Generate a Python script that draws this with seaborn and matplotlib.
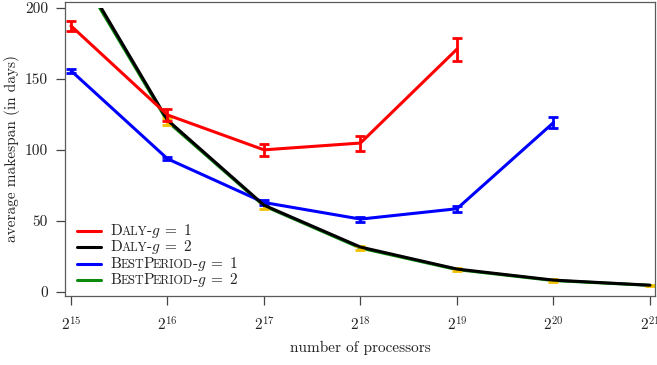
import matplotlib
matplotlib.use("Agg")
import matplotlib.pyplot as plt
import seaborn as sns
import pandas as pd
from matplotlib.transforms import Bbox, TransformedBbox
from matplotlib.lines import Line2D
from matplotlib.ticker import NullLocator
from matplotlib.offsetbox import (AnchoredOffsetbox, VPacker, HPacker,
                                  TextArea, DrawingArea)

# ---- data -------------------------------------------------------------
exponents = [15, 16, 17, 18, 19, 20, 21]
processors = [2 ** e for e in exponents]

daly_g1 = [187.4, 124.6, 100.0, 104.8, 171.0]
daly_g1_err = [3.7, 4.0, 4.2, 5.3, 8.1]

daly_g2 = [236.0, 121.0, 61.0, 31.5, 16.0, 8.2, 4.6]

best_g1 = [155.8, 93.7, 62.9, 51.2, 58.5, 119.2]
best_g1_err = [1.5, 1.0, 1.5, 1.7, 2.1, 3.9]

best_g2 = [234.0, 120.0, 60.5, 30.8, 15.6, 7.9, 4.5]
best_g2_err = [2.5, 2.5, 2.0, 1.5, 1.0, 0.8, 0.6]

yticks = [0, 50, 100, 150, 200]
y_cap = 200

# ---- style ------------------------------------------------------------
sns.set_style("ticks")
plt.rcParams["font.family"] = ["cmr10", "DejaVu Serif"]
plt.rcParams["mathtext.fontset"] = "cm"
plt.rcParams["axes.formatter.use_mathtext"] = True
FS = 11

RED, BLACK, BLUE, GREEN, GOLD = "#ff0000", "#000000", "#0000ff", "#0b8a0b", "#f2c200"
LW = 2.2

fig = plt.figure(figsize=(6.57, 3.65), dpi=100)
ax = fig.add_axes([65 / 657, 1 - 296 / 365, 590 / 657, 294 / 365])
ax.set_xscale("log", base=2)
ax.set_xlim(2 ** 14.938, 2 ** 21.052)
ax.set_ylim(-3.0, 204.2)

# clip the curves at the top of the value range
clip = TransformedBbox(Bbox.from_extents(2 ** 14.9, -10, 2 ** 21.1, y_cap), ax.transData)


def draw_line(values, color, z):
    df = pd.DataFrame({"p": processors[:len(values)], "v": values})
    sns.lineplot(data=df, x="p", y="v", color=color, linewidth=LW,
                 estimator=None, ax=ax, zorder=z)
    line = ax.lines[-1]
    line.set_clip_box(clip)
    line.set_solid_joinstyle("round")


def draw_err(values, errs, color, z):
    eb = ax.errorbar(processors[:len(values)], values, yerr=errs, fmt="none",
                     ecolor=color, elinewidth=2.0, capsize=3.6, capthick=2.0,
                     zorder=z)
    for art in eb.lines[1] + eb.lines[2]:
        art.set_clip_box(clip)


draw_line(best_g2, GREEN, 2)
draw_err(best_g2, best_g2_err, GOLD, 2.5)
draw_line(best_g1, BLUE, 3)
draw_err(best_g1, best_g1_err, BLUE, 3)
draw_line(daly_g2, BLACK, 4)
draw_line(daly_g1, RED, 5)
draw_err(daly_g1, daly_g1_err, RED, 5)

# ---- axes -------------------------------------------------------------
ax.set_xticks(processors)
ax.set_xticklabels([f"$2^{{{e}}}$" for e in exponents])
ax.xaxis.set_minor_locator(NullLocator())
ax.set_yticks(yticks)
ax.set_yticklabels([str(t) for t in yticks])

for s in ax.spines.values():
    s.set_color("#5a5a5a")
    s.set_linewidth(0.9)
ax.tick_params(axis="both", direction="out", length=6.2, width=0.9,
               color="#444444", labelsize=FS, labelcolor="#222222")
ax.tick_params(axis="x", pad=8.0)
ax.tick_params(axis="y", pad=6.0)

ax.set_xlabel("number of processors", fontsize=FS, color="#222222")
ax.set_ylabel("average makespan (in days)", fontsize=FS, color="#222222")
ax.xaxis.set_label_coords(0.5, -0.152)
ax.yaxis.set_label_coords(-0.076, 0.5)

# ---- legend with small-caps names ------------------------------------
SC = FS * 0.8
entries = [
    (RED, [("D", FS), ("ALY", SC), (r"-$g\;=\;1$", FS)]),
    (BLACK, [("D", FS), ("ALY", SC), (r"-$g\;=\;2$", FS)]),
    (BLUE, [("B", FS), ("EST", SC), ("P", FS), ("ERIOD", SC), (r"-$g\;=\;1$", FS)]),
    (GREEN, [("B", FS), ("EST", SC), ("P", FS), ("ERIOD", SC), (r"-$g\;=\;2$", FS)]),
]
rows = []
for color, parts in entries:
    da = DrawingArea(17.3, 8, 0, 0)
    da.add_artist(Line2D([0, 17.3], [4, 4], color=color, lw=LW))
    texts = [TextArea(t, textprops=dict(size=s, color="#222222")) for t, s in parts]
    label = HPacker(children=texts, sep=-0.5, pad=0, align="baseline")
    rows.append(HPacker(children=[da, label], sep=6.5, pad=0, align="center"))
box = VPacker(children=rows, sep=-1.2, pad=0, align="left")
anch = AnchoredOffsetbox(loc="upper left", child=box, pad=0, borderpad=0,
                         frameon=False, bbox_to_anchor=(77 / 657, 1 - 222 / 365),
                         bbox_transform=fig.transFigure)
ax.add_artist(anch)

fig.savefig("out.png", dpi=100)
